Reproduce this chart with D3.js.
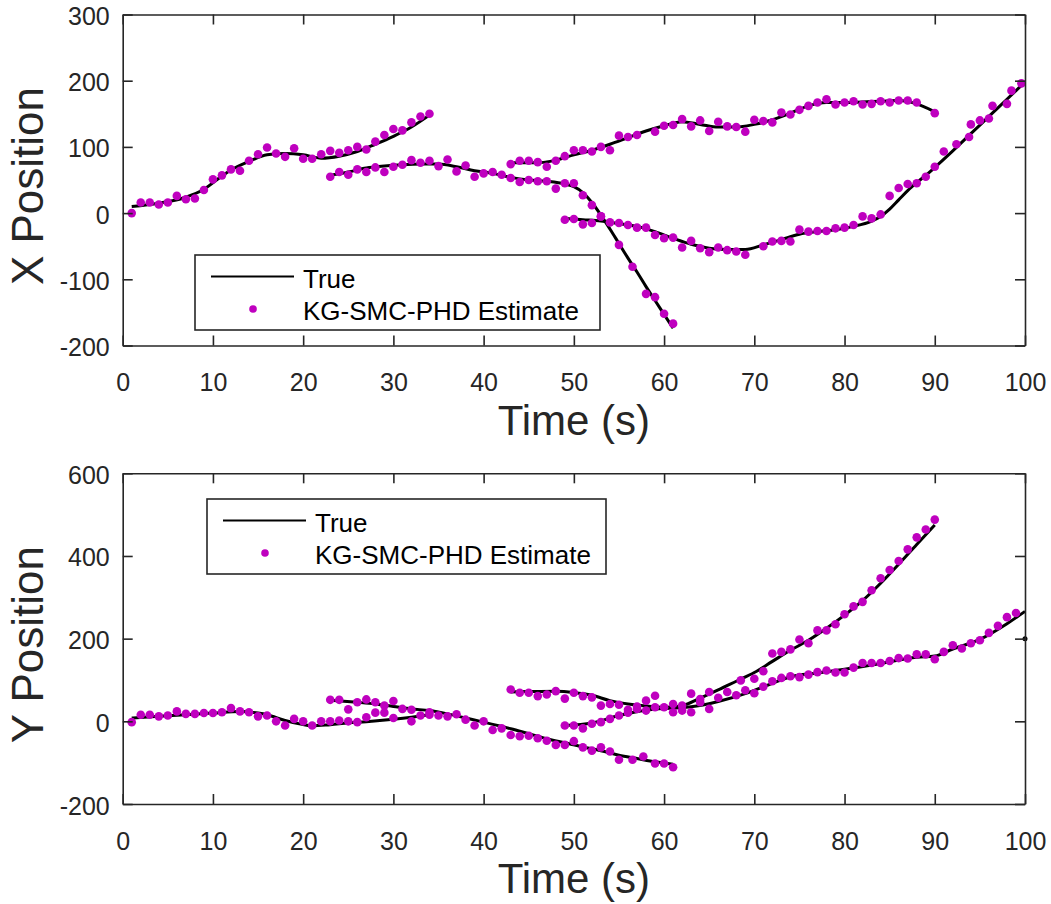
<!DOCTYPE html>
<html>
<head>
<meta charset="utf-8">
<script src="https://cdn.jsdelivr.net/npm/d3@7"></script>
<style>
  body { margin: 0; background: #fff; }
  svg { display: block; }
</style>
</head>
<body>
<svg></svg>
<script>
// ---- data: [time, value] ----
const timeTicks = [0, 10, 20, 30, 40, 50, 60, 70, 80, 90, 100];
const xPosTicks = [-200, -100, 0, 100, 200, 300];
const yPosTicks = [-200, 0, 200, 400, 600];
const legendLabels = ['True', 'KG-SMC-PHD Estimate'];

// X position, true tracks
const trueX1 = [[1,10],[4,15],[7,24],[9,36],[11,56],[12,65],[14,78],[16,88],[18,90],[20,88],[22,83],[24,86],[26,93],[28,104],[30,116],[32,130],[34,148]];
const trueX2 = [[23,57],[25,62],[27,68],[29,71],[31,73],[33,74],[35,74],[37,70],[39,64],[41,60],[43,54],[45,50],[47,48],[49,44],[50,40],[51,31],[52,16],[53,-3],[54,-24],[55,-46],[56,-68],[57,-89],[58,-111],[59,-132],[60,-153],[61,-174]];
const trueX3 = [[43,76],[46,76],[48,80],[50,88],[52,95],[54,104],[56,114],[58,124],[60,132],[62,138],[64,134],[66,130],[68,130],[70,134],[72,141],[74,151],[76,162],[78,167],[80,167],[82,168],[84,169],[86,170],[88,165],[90,153]];
const trueX4 = [[49,-8],[51,-10],[53,-12],[55,-16],[57,-20],[59,-28],[61,-38],[63,-47],[65,-53],[67,-55],[69,-55],[71,-48],[73,-40],[75,-32],[77,-28],[79,-25],[81,-20],[83,-12],[84,-5],[85,6],[86,20],[87,34],[88,46],[89,57],[90,69],[92,94],[94,120],[96,146],[98,172],[100,198]];

// X position, estimates
const estX1 = [[1,0],[2,16],[3,16],[4,13],[5,16],[6,26],[7,21],[8,22],[9,35],[10,51],[11,57],[12,66],[13,64],[14,79],[15,89],[16,99],[17,90],[18,85],[19,98],[20,82],[21,82],[22,89],[23,94],[24,91],[25,95],[26,100],[27,96],[28,108],[29,118],[30,127],[31,125],[32,137],[33,146],[34,150]];
const estX2 = [[23,55],[24,62],[25,58],[26,66],[27,62],[28,69],[29,62],[30,70],[31,73],[32,80],[33,76],[34,79],[35,71],[36,81],[37,63],[38,72],[39,55],[40,60],[41,62],[42,58],[43,53],[44,47],[45,50],[46,48],[47,48],[48,37],[49,45],[50,45],[51,27],[52,12],[53,-5],[55,-48],[56.5,-81],[58,-122],[59,-127],[60,-152],[61,-167]];
const estX3 = [[43,74],[44,79],[45,79],[46,77],[47,70],[48,79],[49,86],[50,95],[51,95],[52,93],[53,100],[54,95],[55,117],[56,115],[57,118],[59,123],[60,132],[61,133],[62,142],[63,131],[64,140],[65,124],[66,138],[67,131],[68,130],[69,123],[70,141],[71,139],[72,137],[73,152],[74,149],[75,156],[76,162],[77,167],[78,172],[79,164],[80,167],[81,169],[82,164],[83,165],[84,169],[85,167],[86,170],[87,170],[88,167],[90,151]];
const estX4 = [[49,-10],[50,-9],[51,-17],[52,-15],[53,-5],[54,-14],[55,-15],[56,-18],[57,-22],[58,-22],[59,-33],[60,-38],[61,-37],[62,-52],[63,-42],[64,-53],[65,-59],[66,-52],[67,-56],[68,-58],[69,-63],[71,-50],[72,-43],[73,-42],[74,-43],[75,-25],[76,-28],[77,-27],[78,-27],[79,-23],[80,-22],[81,-18],[82,-5],[83,-8],[84,-2],[85,26],[86,38],[87,44],[88,45],[89,55],[90,70],[91,93],[92.4,104],[93.8,115],[94,134],[95,140],[96,143],[96.4,162],[98,165],[98.5,185],[99.6,196]];

// Y position, true tracks
const trueY1 = [[1,8],[4,12],[7,16],[10,20],[13,24],[15,20],[16,16],[18,2],[20,-8],[21,-11],[23,-8],[25,-4],[27,-1],[30,5],[32,10],[34,16]];
const trueY2 = [[23,51],[26,46],[28,42],[30,36],[32,30],[34,26],[36,18],[38,8],[40,-2],[43,-18],[45,-30],[47,-42],[49,-52],[51,-62],[53,-71],[55,-82],[57,-90],[59,-98],[61,-104]];
const trueY3 = [[43,71],[45,72],[48,73],[50,70],[52,63],[54,50],[56,42],[58,37],[60,34],[62,38],[64,56],[66,76],[68,97],[70,118],[72,145],[74,172],[76,196],[78,225],[80,257],[82,292],[84,334],[86,380],[88,428],[90,475]];
const trueY4 = [[49,-10],[52,-4],[55,14],[58,27],[61,32],[63,35],[66,48],[69,67],[72,92],[74,108],[77,117],[80,126],[84,140],[88,155],[90,158],[92,175],[95,198],[98,236],[100,266]];
const trueY5 = [[100,200]];

// Y position, estimates
const estY1 = [[1,-2],[2,16],[3,16],[4,12],[5,14],[6,24],[7,18],[8,18],[9,20],[10,20],[11,22],[12,32],[13,24],[14,22],[15,12],[16,14],[17,0],[18,-10],[19,6],[20,0],[21,-10],[22,0],[23,0],[24,2],[25,0],[26,-2],[27,10],[28,21],[29,21],[30,8],[32,0],[33,14],[34,16]];
const estY2 = [[23,52],[24,52],[25,29],[26,46],[27,53],[28,46],[29,38],[30,49],[31,30],[32,28],[34,22],[35,14],[36,12],[37,17],[38,4],[39,-10],[40,0],[41,-21],[42,-17],[43,-33],[44,-36],[45,-35],[46,-41],[47,-47],[48,-57],[49,-57],[50,-48],[51,-63],[52,-71],[53,-63],[54,-73],[55,-93],[56.5,-93],[57.7,-85],[59,-102],[60,-102],[61,-111]];
const estY3 = [[43,77],[44,69],[45,69],[46,61],[47,65],[48,73],[49,55],[50,69],[51,61],[52,58],[53,38],[54,42],[55,40],[56,28],[57,36],[58,50],[59,62],[61,42],[62,38],[63,67],[64,54],[65,71],[68.5,99],[70,103],[71,121],[72,164],[73,168],[74,174],[75,198],[76,189],[77,220],[78,220],[79,235],[80,259],[81,278],[82,289],[83,317],[84,346],[85,366],[86,388],[87,416],[88,445],[89,464],[90,488]];
const estY4 = [[49,-10],[50,-10],[51,-17],[52,-6],[53,-2],[54,6],[55,14],[56,21],[57,30],[58,26],[59,34],[60,34],[61,22],[62,26],[63,22],[64,46],[65,30],[66,57],[67,71],[68,63],[69,75],[70,68],[71,84],[72,97],[73,105],[74,109],[75,107],[76,113],[77,119],[78,123],[79,118],[80,118],[81,130],[82,141],[83,141],[84,141],[85,146],[86,153],[87,152],[88,162],[89,162],[90,150],[91,168],[92,184],[93,176],[94,189],[95,196],[96,214],[97,231],[98,252],[99,262]];

// ---- layout ----
const WIDTH = 1051;
const HEIGHT = 904;
const LEFT = 122.7;
const RIGHT = 1025;
const FONT = '"Liberation Sans", Arial, Helvetica, sans-serif';
const AXIS_COLOR = '#262626';
const DOT_COLOR = '#bf00bf';
const TICK_LEN = 10;

const panels = [
  { top: 14.5, bottom: 345.5, domain: [-200, 300], ticks: xPosTicks, label: 'X Position',
    trueTracks: [trueX1, trueX2, trueX3, trueX4], estTracks: [estX1, estX2, estX3, estX4],
    singles: [], legend: { x: 195, y: 255, w: 405, h: 75 } },
  { top: 473.3, bottom: 804, domain: [-200, 600], ticks: yPosTicks, label: 'Y Position',
    trueTracks: [trueY1, trueY2, trueY3, trueY4], estTracks: [estY1, estY2, estY3, estY4],
    singles: [trueY5], legend: { x: 207, y: 499, w: 399, h: 75 } }
];

const svg = d3.select('svg').
attr('width', WIDTH).
attr('height', HEIGHT).
attr('font-family', FONT);

svg.append('rect').
attr('width', WIDTH).
attr('height', HEIGHT).
attr('fill', '#fff');

panels.forEach(p => {
  const xScale = d3.scaleLinear().domain([0, 100]).range([LEFT, RIGHT]);
  const yScale = d3.scaleLinear().domain(p.domain).range([p.bottom, p.top]);

  const g = svg.append('g');

  // tracks
  const line = d3.line().
  x(d => xScale(d[0])).
  y(d => yScale(d[1])).
  curve(d3.curveMonotoneX);

  g.selectAll('path.track').
  data(p.trueTracks).
  join('path').
  attr('class', 'track').
  attr('d', line).
  attr('fill', 'none').
  attr('stroke', '#000').
  attr('stroke-width', 3).
  attr('stroke-linejoin', 'round');

  g.selectAll('circle.single').
  data(p.singles.flat()).
  join('circle').
  attr('class', 'single').
  attr('cx', d => xScale(d[0])).
  attr('cy', d => yScale(d[1])).
  attr('r', 2.5).
  attr('fill', '#000');

  g.selectAll('circle.est').
  data(p.estTracks.flat()).
  join('circle').
  attr('class', 'est').
  attr('cx', d => xScale(d[0])).
  attr('cy', d => yScale(d[1])).
  attr('r', 4.3).
  attr('fill', DOT_COLOR);

  // axes (box with inward ticks on all sides), plain hyphen minus like MATLAB
  const plain = d => String(d);
  const xAxisB = d3.axisBottom(xScale).tickValues(timeTicks).tickFormat(plain).tickSizeInner(-TICK_LEN).tickSizeOuter(0).tickPadding(28);
  const xAxisT = d3.axisTop(xScale).tickValues(timeTicks).tickSizeInner(-TICK_LEN).tickSizeOuter(0).tickFormat('');
  const yAxisL = d3.axisLeft(yScale).tickValues(p.ticks).tickFormat(plain).tickSizeInner(-TICK_LEN).tickSizeOuter(0).tickPadding(13);
  const yAxisR = d3.axisRight(yScale).tickValues(p.ticks).tickSizeInner(-TICK_LEN).tickSizeOuter(0).tickFormat('');

  const axes = [
    g.append('g').attr('transform', `translate(0,${p.bottom})`).call(xAxisB),
    g.append('g').attr('transform', `translate(0,${p.top})`).call(xAxisT),
    g.append('g').attr('transform', `translate(${LEFT},0)`).call(yAxisL),
    g.append('g').attr('transform', `translate(${RIGHT},0)`).call(yAxisR)
  ];
  axes.forEach(a => {
    a.select('.domain').attr('stroke', AXIS_COLOR).attr('stroke-width', 1.6);
    a.selectAll('.tick line').attr('stroke', AXIS_COLOR).attr('stroke-width', 1.6);
    a.selectAll('.tick text').
    attr('fill', AXIS_COLOR).
    attr('font-size', 25).
    attr('font-family', FONT);
  });
  axes[0].selectAll('.tick text').attr('dy', '0.71em');
  axes[2].selectAll('.tick text').attr('dy', '0.4em');

  // labels
  g.append('text').
  text('Time (s)').
  attr('x', (LEFT + RIGHT) / 2).
  attr('y', p.bottom + 89).
  attr('text-anchor', 'middle').
  attr('font-size', 42).
  attr('fill', AXIS_COLOR);

  g.append('text').
  text(p.label).
  attr('transform', `translate(43,${(p.top + p.bottom) / 2 + 6}) rotate(-90)`).
  attr('text-anchor', 'middle').
  attr('font-size', 44).
  attr('fill', AXIS_COLOR);

  // legend
  const L = p.legend;
  const lg = g.append('g').attr('transform', `translate(${L.x},${L.y})`);
  lg.append('rect').
  attr('width', L.w).
  attr('height', L.h).
  attr('fill', '#fff').
  attr('stroke', AXIS_COLOR).
  attr('stroke-width', 1.6);
  lg.append('line').
  attr('x1', 16).attr('x2', 99).
  attr('y1', 21.5).attr('y2', 21.5).
  attr('stroke', '#000').
  attr('stroke-width', 2);
  lg.append('circle').
  attr('cx', 58).attr('cy', 54).
  attr('r', 3.8).
  attr('fill', DOT_COLOR);
  lg.selectAll('text').
  data(legendLabels).
  join('text').
  text(d => d).
  attr('x', 108).
  attr('y', (d, i) => 32.5 + i * 32).
  attr('font-size', 26).
  attr('fill', '#000');
});
</script>
</body>
</html>
